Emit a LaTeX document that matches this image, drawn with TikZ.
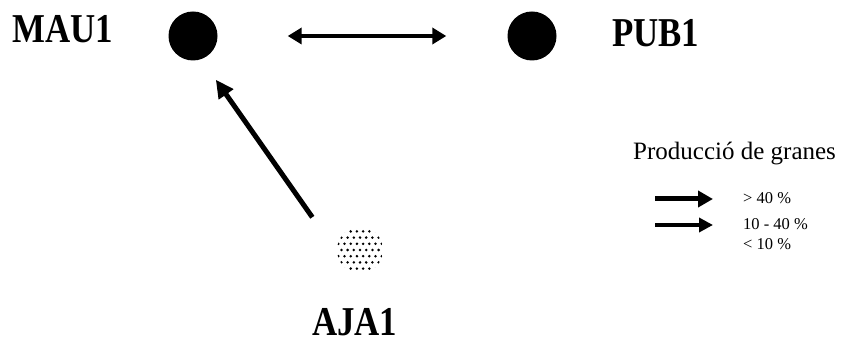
\documentclass[tikz,border=0pt]{standalone}
\usepackage{fontspec}
\usepackage{graphicx}
\setmainfont{Liberation Serif}
\usetikzlibrary{arrows.meta}
\begin{document}
\begin{tikzpicture}[x=1pt,y=-1pt,
  site/.style={circle,minimum size=49pt,inner sep=0pt},
  sitename/.style={font=\fontsize{41}{41}\selectfont\bfseries,inner sep=0pt,anchor=base west},
  link/.style={line width=4pt},
  legtitle/.style={font=\fontsize{25}{25}\selectfont,inner sep=0pt,anchor=base west},
  legtext/.style={font=\fontsize{16.5}{16.5}\selectfont,inner sep=0pt,anchor=base west}]
\useasboundingbox (0,0) rectangle (846,344);
% sites
\node[site,fill=black] (mau) at (193,36) {};
\node[site,fill=black] (pub) at (532,36) {};
\node[site] (aja) at (360,250) {};
\begin{scope}
  \clip (aja.center) circle (23);
  \foreach \i in {-5,...,5}
    \foreach \j in {-5,...,5}
      \fill ({360+6.2*\i+mod(\j+6,2)*3.1},{250+6.2*\j}) circle (1.4);
\end{scope}
% names
\node[sitename] (maul) at (12,43) {\scalebox{0.85}[1]{MAU1}};
\node[sitename] (publ) at (612,47) {\scalebox{0.85}[1]{PUB1}};
\node[sitename] (ajal) at (312,336) {\scalebox{0.85}[1]{AJA1}};
% connectors
\draw[link,{Triangle[length=14pt,width=16pt]}-{Triangle[length=14pt,width=16pt]},
      shorten <=70pt, shorten >=61pt] (mau) -- (pub);
\draw[line width=5pt,-{Triangle[length=18pt,width=17pt]},
      shorten <=40pt, shorten >=25pt] (aja.180) -- (mau.290);
% legend
\node[legtitle] (leg) at (633,160) {Producció de granes};
\coordinate (l1s) at (655,199);
\coordinate (l1e) at (713,199);
\coordinate (l2s) at (655,225);
\coordinate (l2e) at (713,225);
\draw[line width=5pt,-{Triangle[length=15pt,width=16pt]}] (l1s) -- (l1e);
\draw[line width=4pt,-{Triangle[length=14pt,width=14pt]}] (l2s) -- (l2e);
\node[legtext] (t1) at (743,204) {> 40 \%};
\node[legtext] (t2) at (743,230) {10 - 40 \%};
\node[legtext] (t3) at (743,250) {< 10 \%};
\end{tikzpicture}
\end{document}
